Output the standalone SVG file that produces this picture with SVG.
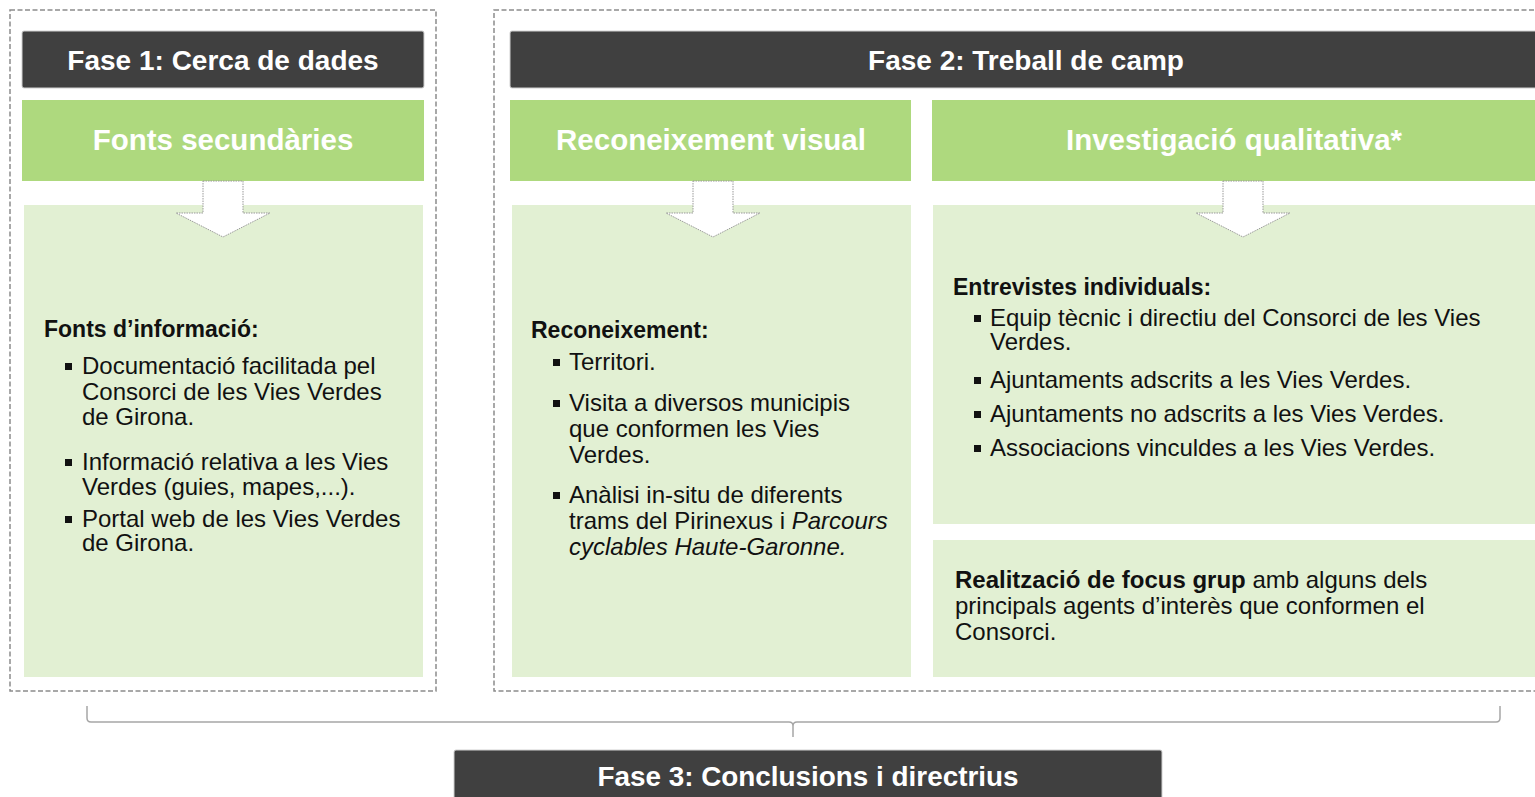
<svg xmlns="http://www.w3.org/2000/svg" width="1535" height="797" viewBox="0 0 1535 797">
<style>
.dash{fill:none;stroke:#8c8c8c;stroke-width:1.5;stroke-dasharray:5,2.5}
.dark{fill:#404040;stroke:#d0d0d0;stroke-width:1}
.green{fill:#aed97e}
.light{fill:#e2f0d3}
.ht{font-family:"Liberation Sans",Arial,sans-serif;font-weight:bold;font-size:28px;fill:#ffffff;text-anchor:middle}
.gt{font-family:"Liberation Sans",Arial,sans-serif;font-weight:bold;font-size:29.5px;fill:#ffffff;text-anchor:middle}
.bt{font-family:"Liberation Sans",Arial,sans-serif;font-size:24px;fill:#111111}
.bh{font-family:"Liberation Sans",Arial,sans-serif;font-size:23px;font-weight:bold;fill:#111111}
.b{font-weight:bold}
.arrow{fill:#ffffff;stroke:#999999;stroke-width:1;stroke-dasharray:1.5,1}
.bul{fill:#111111}
.brace{fill:none;stroke:#a6a6a6;stroke-width:1.5}
</style>
<defs>
<path id="arr" d="M-20,0 L20,0 L20,32 L47,32 L0,56 L-47,32 L-20,32 Z"/>
</defs>
<g id="phase1-frame"><rect class="dash" x="10" y="10" width="426" height="681"/></g>
<g id="phase2-frame"><rect class="dash" x="494" y="10" width="1048" height="681"/></g>

<g id="fase1">
<rect class="dark" x="22" y="31" width="402" height="57" rx="2"/>
<text class="ht" x="223" y="70">Fase 1: Cerca de dades</text>
</g>
<g id="fase2">
<rect class="dark" x="510" y="31" width="1030" height="57" rx="2"/>
<text class="ht" x="1026" y="70">Fase 2: Treball de camp</text>
</g>

<g id="fonts-secundaries">
<rect class="green" x="22" y="100" width="402" height="81"/>
<text class="gt" x="223" y="150">Fonts secundàries</text>
</g>
<g id="reconeixement-visual">
<rect class="green" x="510" y="100" width="401" height="81"/>
<text class="gt" x="711" y="150">Reconeixement visual</text>
</g>
<g id="investigacio-qualitativa">
<rect class="green" x="932" y="100" width="605" height="81"/>
<text class="gt" x="1234" y="150">Investigació qualitativa*</text>
</g>

<g id="fonts-informacio">
<rect class="light" x="24" y="205" width="399" height="472"/>
<text class="bh" x="44" y="337">Fonts d’informació:</text>
<rect class="bul" x="65" y="363" width="7" height="7"/>
<text class="bt" x="82" y="374">Documentació facilitada pel</text>
<text class="bt" x="82" y="400">Consorci de les Vies Verdes</text>
<text class="bt" x="82" y="425">de Girona.</text>
<rect class="bul" x="65" y="459" width="7" height="7"/>
<text class="bt" x="82" y="470">Informació relativa a les Vies</text>
<text class="bt" x="82" y="495">Verdes (guies, mapes,...).</text>
<rect class="bul" x="65" y="516" width="7" height="7"/>
<text class="bt" x="82" y="527">Portal web de les Vies Verdes</text>
<text class="bt" x="82" y="551">de Girona.</text>
</g>

<g id="reconeixement">
<rect class="light" x="512" y="205" width="399" height="472"/>
<text class="bh" x="531" y="338">Reconeixement:</text>
<rect class="bul" x="553" y="359" width="7" height="7"/>
<text class="bt" x="569" y="370">Territori.</text>
<rect class="bul" x="553" y="400" width="7" height="7"/>
<text class="bt" x="569" y="411">Visita a diversos municipis</text>
<text class="bt" x="569" y="437">que conformen les Vies</text>
<text class="bt" x="569" y="463">Verdes.</text>
<rect class="bul" x="553" y="492" width="7" height="7"/>
<text class="bt" x="569" y="503">Anàlisi in-situ de diferents</text>
<text class="bt" x="569" y="529">trams del Pirinexus i <tspan font-style="italic">Parcours</tspan></text>
<text class="bt" x="569" y="555" font-style="italic">cyclables Haute-Garonne.</text>
</g>

<g id="entrevistes">
<rect class="light" x="933" y="205" width="604" height="319"/>
<text class="bh" x="953" y="295">Entrevistes individuals:</text>
<rect class="bul" x="974" y="315" width="7" height="7"/>
<text class="bt" x="990" y="326">Equip tècnic i directiu del Consorci de les Vies</text>
<text class="bt" x="990" y="350">Verdes.</text>
<rect class="bul" x="974" y="377" width="7" height="7"/>
<text class="bt" x="990" y="388">Ajuntaments adscrits a les Vies Verdes.</text>
<rect class="bul" x="974" y="411" width="7" height="7"/>
<text class="bt" x="990" y="422">Ajuntaments no adscrits a les Vies Verdes.</text>
<rect class="bul" x="974" y="445" width="7" height="7"/>
<text class="bt" x="990" y="456">Associacions vinculdes a les Vies Verdes.</text>
</g>

<g id="focus-grup">
<rect class="light" x="933" y="540" width="604" height="137"/>
<text class="bt" x="955" y="588"><tspan class="b">Realització de focus grup</tspan> amb alguns dels</text>
<text class="bt" x="955" y="614">principals agents d’interès que conformen el</text>
<text class="bt" x="955" y="640">Consorci.</text>
</g>

<g id="connectors">
<use href="#arr" class="arrow" x="223" y="181"/>
<use href="#arr" class="arrow" x="713" y="181"/>
<use href="#arr" class="arrow" x="1243" y="181"/>
<path class="brace" d="M87,706 L87,718 Q87,722 91,722 L789,722 Q793,722 793,726 L793,737 M793,726 Q793,722 797,722 L1496,722 Q1500,722 1500,718 L1500,706"/>
</g>

<g id="fase3">
<rect class="dark" x="454" y="750" width="708" height="60" rx="2"/>
<text class="ht" x="808" y="786" font-size="26" textLength="421" lengthAdjust="spacingAndGlyphs">Fase 3: Conclusions i directrius</text>
</g>
</svg>
